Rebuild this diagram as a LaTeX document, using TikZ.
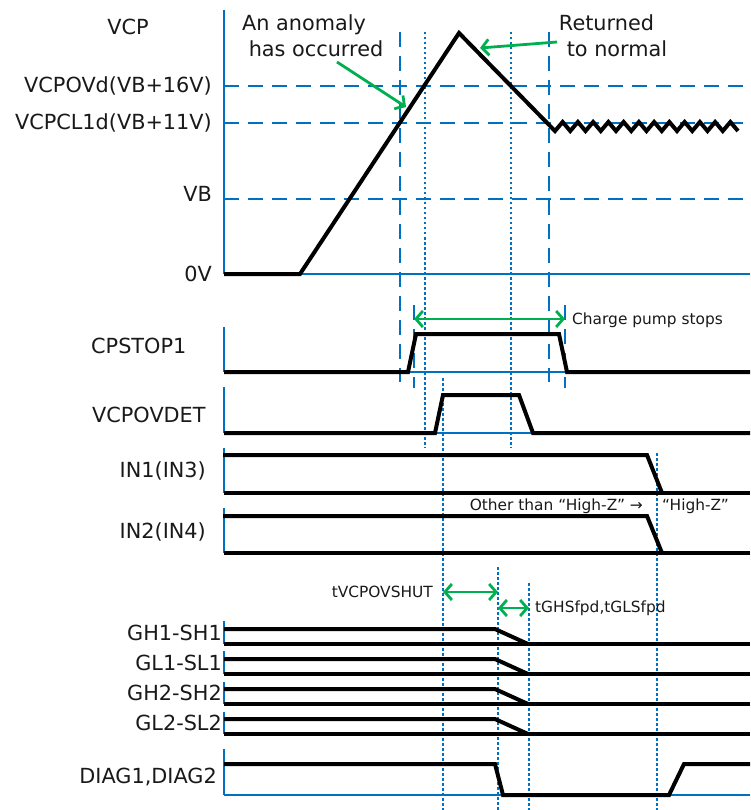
\documentclass[tikz,border=0pt]{standalone}
\usepackage{fontspec}
\setmainfont{DejaVu Sans}
\usetikzlibrary{arrows.meta}
\definecolor{ablue}{HTML}{0070C0}
\definecolor{agreen}{HTML}{00B050}
\begin{document}
\begin{tikzpicture}[x=1pt,y=-1pt,
  big/.style={font=\fontsize{20.8}{26.5}\selectfont, inner sep=0pt, text=black!90},
  small/.style={font=\fontsize{15.4}{18}\selectfont, inner sep=0pt, text=black!90},
  axisline/.style={draw=ablue, line width=2.4pt},
  baseln/.style={draw=ablue, line width=1.8pt},
  guide/.style={draw=ablue, line width=2.4pt, dash pattern=on 15pt off 9pt},
  dotguide/.style={draw=ablue, line width=2.3pt, dash pattern=on 2.5pt off 2.5pt},
  wave/.style={draw=black, line width=4pt},
  garrow/.style={draw=agreen, line width=2.8pt, -{Straight Barb[length=7pt,width=16pt]}},
  garrows/.style={draw=agreen, line width=2.8pt, {Straight Barb[length=7pt,width=16pt]}-{Straight Barb[length=7pt,width=16pt]}},
]
\useasboundingbox (0,0) rectangle (750,810);

% ---------- axes ----------
\draw[axisline] (224,10) -- (224,274);
\draw[axisline] (224,327) -- (224,372);
\draw[axisline] (224,387) -- (224,433);
\draw[axisline] (224,448) -- (224,493);
\draw[axisline] (224,508) -- (224,553);
\draw[axisline] (224,621) -- (224,644);
\draw[axisline] (224,651) -- (224,674);
\draw[axisline] (224,682) -- (224,704);
\draw[axisline] (224,712) -- (224,734);
\draw[axisline] (224,749) -- (224,795);

% blue baselines
\draw[baseln] (224,274) -- (750,274);
\draw[baseln] (224,372) -- (750,372);
\draw[baseln] (224,433) -- (750,433);
\draw[baseln] (224,795) -- (750,795);

% ---------- guide lines ----------
\draw[guide] (224,86) -- (750,86);
\draw[guide] (224,123) -- (750,123);
\draw[guide] (224,199) -- (750,199);
\draw[guide] (400,32) -- (400,382);
\draw[guide] (549,32) -- (549,382);
\draw[guide] (414,305) -- (414,388);
\draw[guide] (565,305) -- (565,388);
\draw[dotguide] (425,32) -- (425,448);
\draw[dotguide] (511,32) -- (511,448);
\draw[dotguide] (443,378) -- (443,810);
\draw[dotguide] (657,453) -- (657,810);
\draw[dotguide] (498,567) -- (498,810);
\draw[dotguide] (529,583) -- (529,810);

% ---------- waveforms ----------
\draw[wave] (224,274) -- (300,274) -- (459,33) -- (555,131)
  \foreach \i in {1,...,12} { -- ++(7.625,-9) -- ++(7.625,9) };
\draw[wave] (224,372) -- (408,372) -- (416,334) -- (559,334) -- (567,372) -- (750,372);
\draw[wave] (224,433) -- (435,433) -- (443,395) -- (519,395) -- (533,433) -- (750,433);
\draw[wave] (223,455) -- (647,455) -- (662,493);
\draw[wave] (224,493) -- (750,493);
\draw[wave] (223,516) -- (647,516) -- (662,553);
\draw[wave] (224,553) -- (750,553);
\foreach \t/\b in {629/644, 659/674, 689/704, 719/734} {
  \draw[wave] (224,\t) -- (495,\t) -- (528,\b);
  \draw[wave] (224,\b) -- (750,\b);
}
\draw[wave] (224,764) -- (495,764) -- (503,795) -- (669,795) -- (684,764) -- (750,764);

% ---------- labels ----------
\node[big, anchor=base] (lVCP) at (128,35) {VCP};
\node[big, anchor=base east] (lOVd) at (212,93) {VCPOVd(VB+16V)};
\node[big, anchor=base east] (lCL1d) at (212,130) {VCPCL1d(VB+11V)};
\node[big, anchor=base east] (lVB) at (212,202) {VB};
\node[big, anchor=base east] (l0V) at (212,281) {0V};
\node[big, anchor=base west] (lCPSTOP) at (91,353) {CPSTOP1};
\node[big, anchor=base west] (lOVDET) at (92,422) {VCPOVDET};
\node[big, anchor=base east] (lIN1) at (206,477) {IN1(IN3)};
\node[big, anchor=base east] (lIN2) at (206,538) {IN2(IN4)};
\node[big, anchor=base east] (lGH1) at (222,640) {GH1-SH1};
\node[big, anchor=base east] (lGL1) at (222,670) {GL1-SL1};
\node[big, anchor=base east] (lGH2) at (222,700) {GH2-SH2};
\node[big, anchor=base east] (lGL2) at (222,730) {GL2-SL2};
\node[big, anchor=base east] (lDIAG) at (217,783) {DIAG1,DIAG2};

\node[big, align=center, anchor=north] (anomaly) at (316,14)
  {An anomaly\hspace*{24pt}\\has occurred};
\node[big, align=center, anchor=north] (returned) at (617,14)
  {Returned\hspace*{21pt}\\to normal};

\node[small, anchor=base west] (tCP) at (572,324) {Charge pump stops};
\node[small, anchor=base east] (tOther) at (643,510) {Other than “High-Z” →};
\node[small, anchor=base west] (tHighZ) at (662,510) {“High-Z”};
\node[small, anchor=base east] (tShut) at (433,597) {tVCPOVSHUT};
\node[small, anchor=base west] (tFpd) at (535,612) {tGHSfpd,tGLSfpd};

% ---------- green arrows ----------
\coordinate (anomTip) at (406,107);
\coordinate (anomStart) at (337,62);
\coordinate (retTip) at (480,48);
\coordinate (retStart) at (557,42);
\draw[garrow] (anomStart) -- (anomTip);
\draw[garrow] (retStart) -- (retTip);

\coordinate (cpL) at (414,319);
\coordinate (cpR) at (565,319);
\draw[garrows] (cpL) -- (cpR);
\coordinate (shL) at (443,592);
\coordinate (shR) at (498,592);
\draw[garrows] (shL) -- (shR);
\coordinate (fpL) at (498,608);
\coordinate (fpR) at (529,608);
\draw[garrows] (fpL) -- (fpR);
\end{tikzpicture}
\end{document}
